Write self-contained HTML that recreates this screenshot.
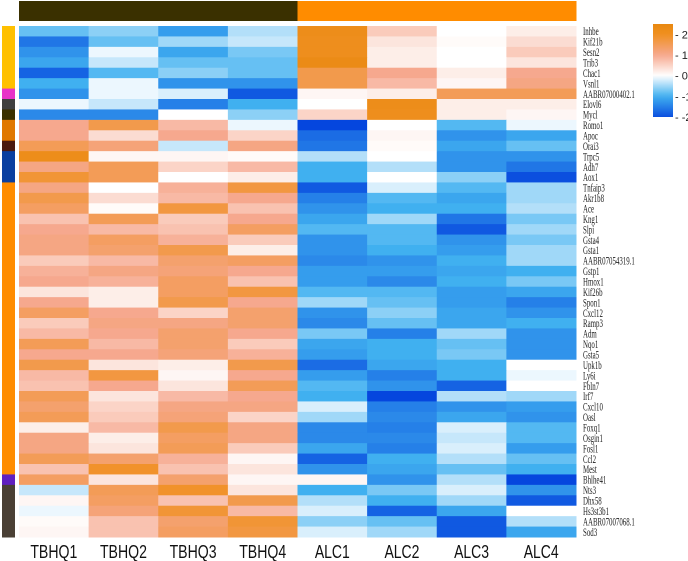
<!DOCTYPE html>
<html><head><meta charset="utf-8"><style>
html,body{margin:0;padding:0;background:#fff;width:688px;height:561px;overflow:hidden}
svg{display:block}
</style></head><body>
<svg id="chart" width="688" height="561" xmlns="http://www.w3.org/2000/svg"></svg>
<script>
const samples = ["TBHQ1","TBHQ2","TBHQ3","TBHQ4","ALC1","ALC2","ALC3","ALC4"];
const groupColors = ["#3a3000","#3a3000","#3a3000","#3a3000","#ff8c00","#ff8c00","#ff8c00","#ff8c00"];
const genes = ["Inhbe","Kif21b","Sesn2","Trib3","Chac1","Vsnl1","AABR07000402.1","Elovl6","Mycl","Romo1","Apoc","Orai3","Trpc5","Adh7","Aox1","Tnfaip3","Akr1b8","Ace","Kng1","Slpi","Gsta4","Gsta1","AABR07054319.1","Gstp1","Hmox1","Kif26b","Spon1","Cxcl12","Ramp3","Adm","Nqo1","Gsta5","Upk1b","Ly6i","Fbln7","Irf7","Cxcl10","Oasl","Foxq1","Osgin1","Fosl1","Ccl2","Mest","Bhlhe41","Nts3","Dhx58","Hs3st3b1","AABR07007068.1","Sod3"];
const rowGroupColors = ["#ffc000","#ffc000","#ffc000","#ffc000","#ffc000","#ffc000","#e832c8","#404040","#3a3000","#e07800","#e07800","#4a1a10","#0a3fa0","#0a3fa0","#0a3fa0","#ff8c00","#ff8c00","#ff8c00","#ff8c00","#ff8c00","#ff8c00","#ff8c00","#ff8c00","#ff8c00","#ff8c00","#ff8c00","#ff8c00","#ff8c00","#ff8c00","#ff8c00","#ff8c00","#ff8c00","#ff8c00","#ff8c00","#ff8c00","#ff8c00","#ff8c00","#ff8c00","#ff8c00","#ff8c00","#ff8c00","#ff8c00","#ff8c00","#6020c0","#4a4035","#4a4035","#4a4035","#4a4035","#4a4035"];
const values = [
[-0.8,-0.6,-1.2,-0.4,2.2,0.6,0,0.2],
[-1.6,-0.8,-0.5,-0.3,2.1,0.3,0.05,0.4],
[-1.3,-0.1,-1.1,-0.7,2.1,0.2,0,0.6],
[-1.1,-0.3,-0.8,-0.8,2.3,0.2,0,0.3],
[-1.8,-0.9,-0.6,-0.8,1.6,1.0,0.2,1.0],
[-1.0,-0.1,-1.3,-1.3,1.6,0.8,0.1,1.1],
[-1.3,-0.1,-0.2,-1.9,0.1,0.2,1.5,1.5],
[-0.1,-0.3,-1.5,-1.0,0,2.2,0.2,0.2],
[-1.4,-1.4,0,-0.6,0.5,2.1,0.2,0.1],
[1.0,1.6,0.8,-0.1,-2.1,0,-0.9,-0.1],
[1.0,0.4,1.0,0.5,-1.7,0.1,-1.3,-1.1],
[1.5,1.2,-0.3,1.1,-1.6,0.05,-1.1,-0.8],
[2.2,0.1,0.1,0.05,-0.4,0,-1.3,-1.3],
[1.1,1.5,0.5,0.8,-1.0,-0.4,-1.3,-1.6],
[1.8,1.5,0,0.2,-1.0,0,-0.6,-2.0],
[1.1,0,0.9,1.7,-1.9,-0.2,-0.9,-0.5],
[1.6,0.4,0.8,1.0,-1.5,-0.9,-1.1,-0.5],
[1.4,0.05,1.7,0.7,-1.3,-1.0,-1.0,-0.4],
[0.7,1.5,0.6,1.0,-1.1,-0.5,-1.6,-0.7],
[1.0,0.8,0.7,1.4,-0.9,-0.9,-1.9,-0.5],
[1.1,1.4,0.9,0.6,-1.3,-0.9,-1.3,-0.7],
[1.1,1.3,1.6,0.2,-1.3,-1.0,-1.2,-0.5],
[0.6,0.8,1.3,1.4,-1.4,-1.3,-1.0,-0.5],
[0.9,1.1,1.2,1.0,-1.2,-1.2,-1.1,-1.0],
[1.0,0.9,1.4,0.7,-1.2,-1.4,-1.0,-0.7],
[0.3,0.2,1.4,1.7,-0.9,-0.9,-1.2,-1.1],
[1.0,0.2,1.6,1.0,-0.5,-0.8,-1.2,-1.5],
[1.4,1.0,0.5,1.3,-1.3,-0.6,-1.1,-1.3],
[0.6,1.1,1.1,1.3,-1.4,-0.8,-1.1,-1.0],
[0.8,1.0,1.3,1.0,-0.7,-1.5,-0.5,-1.3],
[1.5,0.8,1.3,0.6,-1.1,-1.0,-0.8,-1.3],
[1.0,1.0,1.2,0.9,-1.2,-1.0,-0.7,-1.3],
[1.6,0.3,0.2,1.6,-1.7,-1.1,-1.0,0],
[0.8,1.7,0.1,1.0,-1.2,-1.5,-1.0,-0.1],
[0.7,1.0,0.3,1.5,-0.9,-1.3,-1.8,0],
[1.5,0.3,0.8,1.0,-1.0,-2.1,-0.4,-0.5],
[1.3,0.5,1.1,1.1,-0.2,-1.5,-1.3,-1.2],
[1.5,0.6,1.2,0.5,-0.5,-1.4,-1.1,-1.3],
[0.2,0.8,1.6,1.1,-1.4,-1.5,-0.2,-0.9],
[1.1,0.2,1.4,1.1,-1.4,-1.4,-0.3,-0.9],
[1.1,0.3,1.5,0.6,-1.1,-1.5,-0.2,-1.2],
[1.5,1.3,0.9,0.1,-1.8,-1.0,-0.4,-0.8],
[0.7,1.9,0.7,0.3,-1.3,-1.1,-0.8,-1.0],
[1.4,0.3,1.3,0.1,0.1,-1.3,-0.4,-2.1],
[-0.3,1.5,1.9,0.3,-1.0,-0.7,-0.2,-1.3],
[0.1,1.4,0.7,1.6,-0.4,-1.0,-0.5,-1.9],
[-0.1,1.2,1.8,0.8,-0.2,-1.8,-1.1,0],
[0.05,0.7,1.3,1.8,-0.6,-0.8,-1.9,-0.4],
[0.1,0.7,1.4,1.7,-0.2,-0.5,-1.9,-1.1]
];
const legendTicks = [2,1,0,-1,-2];

const NS = "http://www.w3.org/2000/svg";
const svg = document.getElementById("chart");
function mk(tag, attrs){const e=document.createElementNS(NS,tag);for(const k in attrs)e.setAttribute(k,attrs[k]);svg.appendChild(e);return e;}
const X0=19, X1=576, Y0=26, Y1=537;
const cw=(X1-X0)/samples.length, rh=(Y1-Y0)/genes.length;
const xPos=i=>X0+i*cw, yPos=j=>Y0+j*rh;
const stops=[[-2.2,[0,60,220]],[-1,[64,176,240]],[0,[255,255,255]],[1,[246,168,142]],[2,[240,144,32]],[2.5,[232,136,16]]];
function color(v){
  if(v<=stops[0][0])return `rgb(${stops[0][1]})`;
  for(let i=1;i<stops.length;i++){
    if(v<=stops[i][0]){const a=stops[i-1],b=stops[i];const t=(v-a[0])/(b[0]-a[0]);
      const c=a[1].map((x,k)=>Math.round(x+(b[1][k]-x)*t));return `rgb(${c})`;}
  }
  return `rgb(${stops[stops.length-1][1]})`;
}
samples.forEach((s,i)=>{
  const r=mk("rect",{x:xPos(i),y:1,width:cw+0.5,height:20,fill:groupColors[i]});
  
  
});
genes.forEach((g,j)=>{
  const r=mk("rect",{x:2,y:yPos(j),width:13,height:rh+0.5,fill:rowGroupColors[j]});
  
  
});
values.forEach((row,j)=>row.forEach((v,i)=>{
  const r=mk("rect",{x:xPos(i),y:yPos(j),width:cw+0.5,height:rh+0.5,fill:color(v)});
  
  
}));
genes.forEach((g,j)=>{
  const t=mk("text",{x:0,y:0,"font-family":"Liberation Serif, serif","font-size":"11.5",fill:"#222",
    transform:`translate(583,${yPos(j)+rh/2+4}) scale(0.6,1)`});
  t.textContent=g;
  
  
});
samples.forEach((s,i)=>{
  const t=mk("text",{x:xPos(i)+cw/2,y:558,"text-anchor":"middle","font-family":"Liberation Sans, sans-serif","font-size":"18",fill:"#111",textLength:s.length>4?47:35,lengthAdjust:"spacingAndGlyphs"});
  t.textContent=s;
  
  
});
const defs=mk("defs",{});
const lg=document.createElementNS(NS,"linearGradient");
lg.setAttribute("id","lg");lg.setAttribute("x1","0");lg.setAttribute("y1","0");lg.setAttribute("x2","0");lg.setAttribute("y2","1");
defs.appendChild(lg);
const LY0=24,LY1=117,vTop=2.5,vBot=-2;
const ly=v=>LY0+(vTop-v)/(vTop-vBot)*(LY1-LY0);
for(let k=0;k<=20;k++){const v=vTop-(vTop-vBot)*k/20;const s=document.createElementNS(NS,"stop");
  s.setAttribute("offset",k/20);s.setAttribute("stop-color",color(v));lg.appendChild(s);}
const lb=mk("rect",{x:653,y:LY0,width:20,height:LY1-LY0,fill:"url(#lg)"});


legendTicks.forEach(v=>{
  const t=mk("text",{x:675,y:ly(v)+4,"font-family":"Liberation Sans, sans-serif","font-size":"11",fill:"#222"});
  t.textContent="- "+v;
  
  
});
</script>
</body></html>
